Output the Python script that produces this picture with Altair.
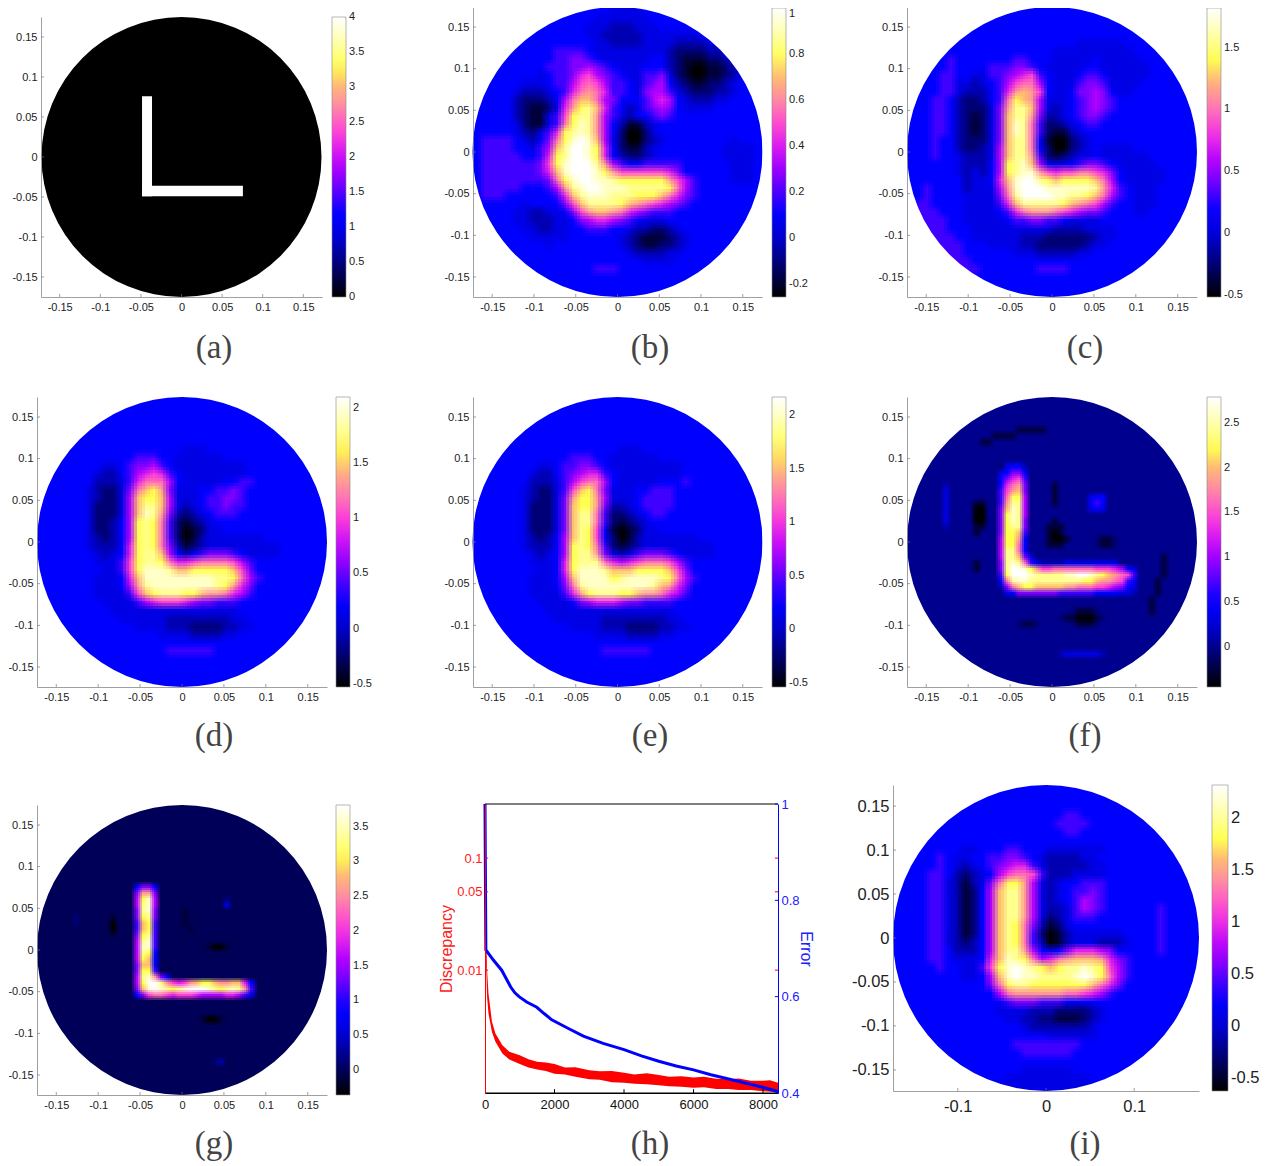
import altair as alt
import pandas as pd

W, H = 1260, 1155
OFF = 8
LEVELS = "0123456789abcdefgh"
PALETTE = ["#000000", "#00003c", "#000078", "#0000b4", "#0000e8", "#0000ff", "#4000ff", "#8000ff", "#b400ff",
           "#e020f0", "#ff40d8", "#ff70b8", "#ff9a96", "#ffc070", "#ffff50", "#ffff90", "#ffffc8", "#ffffff"]
A5 = "555555 555555 555555 555555 555555 555555"

ROWS_B = [
 "555555 555555 555554 444555 555555 555555", "555555 555555 555444 444455 555555 555555",
 "555555 555555 554443 334445 555555 555555", "555555 555555 554433 333444 444455 555555",
 "555555 555555 555443 333444 433334 455555", "555555 555566 665444 444444 322223 345555",
 "555555 555566 776544 444455 321112 234555", "555555 555666 778765 444555 321001 123455",
 "555555 554566 79a876 544667 421001 123455", "555555 444566 8aba86 654678 532112 234555",
 "555554 333456 9bcb96 654788 643222 334555", "555553 222358 bddb87 555689 854333 445555",
 "555553 211249 cefd96 534678 754444 555555", "555553 21146a effc86 435567 655555 555555",
 "555554 21146b egfc85 311345 555555 555555", "555554 32469e fgfc85 200245 555555 555555",
 "566665 4357be ghgd84 200234 555555 554555", "566665 5468df hhge95 211345 555555 544445",
 "566666 5569ef hhge95 322345 555555 544445", "566666 667aeg hhhfc8 655666 665555 554445",
 "566666 6679dg hhhgec aaaaaa 975555 554445", "566666 6667be ghhggf eeeeee ca8655 554445",
 "566666 55568c fghhgg gfffff eb8655 555555", "566655 555569 dfgggf ffeeed b97655 555555",
 "555555 455557 adffff edcba9 876555 555555", "555554 433445 7acddc b98766 655555 555555",
 "555554 433344 578998 765444 555555 555555", "555555 443344 556665 543322 345555 555555",
 "555555 544444 555555 432111 234555 555555", "555555 555455 555555 432112 234555 555555",
 "555555 555555 555555 543333 445555 555555", "555555 555555 555555 555444 455555 555555",
 "555555 555555 555666 555555 555555 555555", A5,
 A5, A5]

ROWS_C = [
 A5, A5, A5, A5,
 "555555 555555 555555 555444 444555 555555", "555555 555555 555555 444444 444455 555555",
 "555556 555555 566555 444445 444445 555555", "555556 555566 677654 444455 444444 555555",
 "555566 554466 789a65 444566 544444 555555", "555566 443456 8abb85 444677 644445 555555",
 "555566 433356 9cdca5 445778 754455 555555", "555665 322356 bedc84 445678 765555 555555",
 "555665 322247 cffd84 345678 765555 555555", "555665 321247 dffc73 345677 655555 555555",
 "555665 321247 dgfb62 234566 555555 555555", "555665 321247 dgfb62 113455 555555 555555",
 "555655 322247 dffb51 002345 555555 555555", "555655 322348 dffb52 002345 444455 555555",
 "555655 433348 dffc62 123445 444444 555555", "555555 433358 efgd84 445677 654444 455555",
 "555555 434358 efggca 9aabba 975444 445555", "555555 534459 dghhfe deeeed b85444 445555",
 "556555 534448 cghhhg gggggf c96544 455555", "556555 544447 bfhhhh ggffed b86544 455555",
 "566555 544446 9dffff fedcba 865544 455555", "566655 544445 69bccc ba9877 655544 555555",
 "566665 544444 566776 654444 555555 555555", "566665 554444 444444 333344 445555 555555",
 "566666 554444 443332 222223 445555 555555", "556666 655544 443322 222234 455555 555555",
 "556666 655555 544433 333445 555555 555555", "555566 665555 555555 555555 555555 555555",
 "555556 666555 555566 665555 555555 555555", A5, A5, A5]

ROWS_D = [
 A5, A5, A5, A5, A5,
 A5, "555555 555555 555555 444555 555555 555555",
 "555555 555555 666554 444445 555555 555555", "555555 554456 778654 444444 445555 555555",
 "555555 543356 89a965 444444 445555 555555", "555555 533346 9bbb85 444445 566555 555555",
 "555555 432247 bdec74 445566 765555 555555", "555555 432248 deed84 445667 765555 555555",
 "555555 422248 dffd84 345667 665555 555555", "555555 422248 dgfc73 234566 655555 555555",
 "555555 422358 efeb62 123455 555555 555555", "555555 422358 efeb62 012445 555555 555555",
 "555555 432358 efeb62 013444 444455 555555", "555555 433359 efeb73 123444 444444 555555",
 "555555 543459 effd85 356777 654444 555555", "555555 54446a effeb9 9abbbb a86555 555555",
 "555555 55446a egggfd deeeee da7555 555555", "555555 544459 dggggg ggggff eb8655 555555",
 "555555 544458 cfgggg ggggfe c97555 555555", "555555 544446 adefff eedccb 986555 555555",
 "555555 554444 689aaa 987766 655555 555555", "555555 555444 444444 444444 455555 555555",
 "555555 555544 444433 333333 445555 555555", "555555 555555 444433 322223 344555 555555",
 "555555 555555 555444 433334 455555 555555", A5,
 "555555 555555 555566 666655 555555 555555", A5,
 A5, A5, A5]

ROWS_E = [
 A5, A5, A5, A5, A5,
 A5, "555555 555555 555555 444555 555555 555555",
 "555555 555555 666554 444445 555555 555555", "555555 554456 677654 444444 445555 555555",
 "555555 543356 789965 444444 445555 555555", "555555 533346 8abb85 444445 556555 555555",
 "555555 432246 adeb74 445566 655555 555555", "555555 432247 ceec84 445666 655555 555555",
 "555555 422247 deec73 345666 655555 555555", "555555 422247 dffb62 234566 555555 555555",
 "555555 422247 dffb62 123455 555555 555555", "555555 422247 dfea51 012445 555555 555555",
 "555555 432358 dfea52 013444 444455 555555", "555555 433358 efeb62 123444 444444 555555",
 "555555 543458 effc74 346777 654444 555555", "555555 544459 efffb9 89abbb a86555 555555",
 "555555 554459 egggfd ddeeee da7555 555555", "555555 544458 dgggge fggggf eb8655 555555",
 "555555 544457 bfgggg ggggfd c97555 555555", "555555 544446 9cefff eedccb 986555 555555",
 "555555 554444 578999 877666 655555 555555", "555555 555444 444444 444444 455555 555555",
 "555555 555544 444433 333333 445555 555555", "555555 555555 444433 322223 344555 555555",
 "555555 555555 555444 433334 455555 555555", A5,
 "555555 555555 555566 666655 555555 555555", A5,
 A5, A5, A5]

ROWS_I = [
 A5, A5, A5,
 "555555 555555 555555 556655 555555 555555", "555555 555555 555555 566665 555555 555555",
 "555555 555555 555555 556655 555555 555555", A5,
 "555555 554455 566555 444444 455555 555555", "555556 544556 677654 333344 555555 555555",
 "555556 543456 789964 333334 455555 555555", "555566 532345 8abba6 333444 455555 555555",
 "555566 431347 beec84 345566 655555 555555", "555566 431258 dffc84 345667 655555 555555",
 "555566 431258 dffc84 345687 655555 555555", "555566 431258 dffc84 334687 655555 565555",
 "555566 431258 dffc84 234666 555555 565555", "555566 431258 dfeb73 124555 555555 565555",
 "555566 431258 dfeb62 013444 444555 565555", "555566 432358 dfeb63 013444 333455 565555",
 "555566 533358 dffc85 457999 875555 565555", "555566 544459 dgfeb8 9bcddd c97655 555555",
 "555556 55446a eghgfe deffgf ea8655 555555", "555555 554458 dghggf fffghg eb8655 555555",
 "555555 555557 beffee eeeeed b97555 555555", "555555 555555 8bcccc ccbba9 865555 555555",
 "555555 555555 567776 665555 555555 555555", "555555 555555 444433 322223 455555 555555",
 "555555 555555 544332 211123 455555 555555", "555555 555555 555433 333334 555555 555555",
 "555555 555555 555555 444444 555555 555555", "555555 555555 556666 666655 555555 555555",
 "555555 555555 555666 666555 555555 555555", A5,
 "555555 555555 555444 444555 555555 555555", "555555 555555 544444 444445 555555 555555",
 "555555 555555 444444 444444 555555 555555"]

# (row, first column, levels) on a 48 x 48 grid; everything else is the zero background
PATCH_F = [
 (5,18,"11111"),(6,14,"1111"),(7,12,"11"),(14,6,"3"),(15,6,"4"),(16,6,"4"),(17,6,"4"),(18,6,"4"),(19,6,"4"),(20,6,"4"),(21,6,"3"),
 (11,15,"24553"),(12,15,"45775"),(13,15,"579a6"),(14,15,"59bc7"),(15,15,"6acd7"),(16,15,"6bee8"),(17,15,"6cff8"),
 (18,15,"7dgf8"),(19,15,"7egf8"),(20,15,"7egf7"),(21,15,"7eff7"),(22,15,"7eed6"),(23,15,"8eec5"),(24,15,"8eeb5"),
 (25,15,"8ffb5"),(26,15,"8ffd74"),(27,15,"7fgfb643333444444444"),
 (28,15,"7fhhgecaabbbbbbbaaa9854"),(29,15,"6ehhhgfffffgghhgfedcba6"),(30,15,"5bfggfffffffffeedccba65"),
 (31,15,"37bdeeddddd ccbbbaa98754"),(32,16,"457777777666666555 5443"),
 (17,11,"11"),(18,11,"00"),(19,11,"00"),(20,11,"00"),(21,11,"11"),(22,11,"1"),(27,11,"1"),(28,11,"1"),
 (14,24,"1"),(15,24,"1"),(16,24,"1"),(17,24,"1"),(20,24,"1"),(21,23,"111"),(22,23,"101"),(23,23,"1001"),(24,23,"111"),
 (23,31,"2112"),(24,31,"2112"),(16,30,"455"),(17,30,"565"),(18,30,"454"),
 (35,27,"21112"),(36,25,"2110001 2"),(37,27,"21112"),(37,18,"2112"),(42,25,"34444443"),
 (26,42,"1"),(27,42,"1"),(28,42,"1"),(29,42,"1"),(30,41,"1"),(31,41,"1"),(32,41,"1"),(33,40,"1"),(34,40,"1"),(35,40,"1")]
PATCH_G = [
 (13,16,"5775"),(14,16,"7cc7"),(15,16,"8eg8"),(16,16,"8fg8"),(17,16,"7fg7"),(18,16,"7ef7"),(19,16,"6de6"),(20,16,"6de6"),
 (21,16,"7ef6"),(22,16,"8fg6"),(23,16,"8gg6"),(24,16,"8fe5"),(25,16,"8ed5"),(26,16,"7dd5"),(27,16,"7ee6"),(28,16,"8fgc75"),
 (29,16,"8ehhfca9acdeedccdd95"),(30,16,"7dghgfefghhhgfefgfc6"),(31,16,"57abba9aaa98888 99864"),
 (18,12,"1"),(19,12,"0"),(20,12,"0"),(21,12,"1"),(17,24,"1"),(18,24,"1"),(19,24,"1"),(20,25,"1"),(23,28,"1001"),(35,27,"1001"),
 (15,31,"2"),(16,31,"4"),(18,6,"2"),(19,6,"2"),(42,29,"23")]

DISC_X = [0, 5, 30, 60, 100, 200, 300, 500, 700, 1000, 1250, 1500, 1750, 2000, 2300, 2600, 3000, 3300, 3650, 4000, 4300, 4650, 5000,
          5300, 5650, 6000, 6300, 6650, 7000, 7300, 7650, 8000, 8200, 8430]
DISC_HI = [.30, .30, .0228, .01, .00619, .00346, .00272, .00214, .00187, .00174, .00160, .00152, .00150, .00145, .00135, .00136, .00128,
           .00125, .00126, .00121, .00117, .00120, .00116, .00112, .00113, .0011, .00112, .00107, .00106, .00108, .00103, .00103, .00104, .00099]
DISC_LO = [.02, .02, .0115, .00578, .0041, .00281, .00229, .0018, .00159, .00145, .00135, .0013, .00126, .00119, .00117, .00112, .00106,
           .00105, .00100, .00099, .00097, .00096, .00094, .00092, .00091, .00089, .00090, .00087, .00087, .00085, .00085, .00083, .00082, .00081]
ERR_X = [0, 8, 25, 240, 480, 620, 740, 860, 980, 1200, 1490, 1700, 1920, 2400, 2830, 3400, 4000, 4500, 5000, 5500, 6000, 6500, 7010, 7930, 8430]
ERR_Y = [1, .9, .697, .676, .655, .636, .62, .608, .6, .589, .578, .565, .552, .534, .518, .503, .49, .477, .466, .456, .448, .438, .429, .413, .403]

TICKS_STD = [-.15, -.1, -.05, 0, .05, .1, .15]
BAR_A = [0, .5, 1, 1.5, 2, 2.5, 3, 3.5, 4]
BAR_B = [-.2, 0, .2, .4, .6, .8, 1]
BAR_C = [-.5, 0, .5, 1, 1.5]
BAR_D = [-.5, 0, .5, 1, 1.5, 2]
BAR_F = [0, .5, 1, 1.5, 2, 2.5]
BAR_G = [0, .5, 1, 1.5, 2, 2.5, 3, 3.5]
BAR_I = [-.5, 0, .5, 1, 1.5, 2]
CAPTIONS = [("(a)", 214, 358), ("(b)", 650, 358), ("(c)", 1085, 358), ("(d)", 214, 746), ("(e)", 650, 746),
            ("(f)", 1085, 746), ("(g)", 214, 1154), ("(h)", 650, 1154), ("(i)", 1085, 1154)]

LABEL = "''+datum.value"
SANS = "Liberation Sans"


def px(v):
    return v - OFF


def cell(r, c, nx, ny, ch, dx, dy, vmin, vmax):
    w, h = 2 * dx / nx, 2 * dy / ny
    v = 0.0 if ch == "." else vmin + (vmax - vmin) * LEVELS.index(ch) / 17
    return {"x0": -dx + c * w, "x1": -dx + (c + 1) * w, "y1": dy - r * h, "y0": dy - (r + 1) * h, "v": v}


def cells_from_rows(rows, dx, dy, vmin, vmax):
    out = []
    for r, row in enumerate(rows):
        row = row.replace(" ", "")
        for c, ch in enumerate(row):
            out.append(cell(r, c, len(row), len(rows), ch, dx, dy, vmin, vmax))
    return out


def cells_from_patches(patches, n, dx, dy, vmin, vmax):
    grid = {}
    for r, c0, text in patches:
        for i, ch in enumerate(text.replace(" ", "")):
            grid[(r, c0 + i)] = ch
    # every cell next to a read value is kept too, at the zero background, so softening stays even
    keep = {(r + a, c + b) for (r, c) in grid for a in (-1, 0, 1) for b in (-1, 0, 1)}
    return [cell(r, c, n, n, grid.get((r, c), "."), dx, dy, vmin, vmax) for (r, c) in sorted(keep)]


def panel(cells, box, dom, vrange, bar_vals, bar, radius, base, xticks=TICKS_STD, yticks=TICKS_STD, font=11, extra=None, thick=14,
          soften=0, xpad=4):
    x0, x1, y0, y1 = [px(b) for b in box]
    dx, dy = dom
    vmin, vmax = vrange
    xs = alt.Scale(domain=[-dx, dx], range=[x0, x1], nice=False, zero=False)
    ys = alt.Scale(domain=[-dy, dy], range=[y1, y0], nice=False, zero=False)
    cs = alt.Scale(domain=[vmin + (vmax - vmin) * i / 17 for i in range(18)], range=PALETTE, type="linear", clamp=True,
                   interpolate="rgb")
    common = dict(grid=False, title=None, tickSize=0, labelExpr=LABEL, labelFont=SANS, labelFontSize=font,
                  labelColor="#222", domainColor="#888", domainWidth=.8, zindex=1, labelOverlap=False, labelFlush=False,
                  labelBound=False)
    xax = alt.Axis(orient="bottom", values=xticks, offset=-(H - y1), labelPadding=xpad, **common)
    yax = alt.Axis(orient="left", values=yticks, offset=-x0, labelPadding=4, **common)
    top = max(y0, 0)
    leg = alt.Legend(orient="none", legendX=px(bar), legendY=top, direction="vertical", title=None, values=bar_vals,
                     gradientLength=y1 - top, gradientThickness=thick, gradientStrokeColor="#888", gradientStrokeWidth=.6,
                     labelFont=SANS, labelFontSize=font, labelColor="#222", labelExpr=LABEL, labelOffset=3, labelOverlap=False)
    under = alt.Chart(pd.DataFrame([{"x0": -dx, "x1": dx, "y0": -dy, "y1": dy, "v": base}])).mark_rect().encode(
        x=alt.X("x0:Q", scale=xs, axis=xax), x2="x1:Q",
        y=alt.Y("y0:Q", scale=ys, axis=yax), y2="y1:Q",
        color=alt.Color("v:Q", scale=cs, legend=leg))
    layers = [under]
    table = pd.DataFrame(cells)
    # the same cells are drawn a few times, a fraction of a cell apart, each pass equally weighted by its opacity,
    # so the renderer softens the steps between cells the way the reference image is shaded
    shifts = [(-soften, -soften), (0, -soften), (soften, -soften), (-soften, 0), (0, 0), (soften, 0),
              (-soften, soften), (0, soften), (soften, soften)] if soften else [(0, 0)]
    for k, (sx, sy) in enumerate(shifts, start=1):
        xk = alt.Scale(domain=[-dx, dx], range=[x0 + sx, x1 + sx], nice=False, zero=False, round=True)
        yk = alt.Scale(domain=[-dy, dy], range=[y1 + sy, y0 + sy], nice=False, zero=False, round=True)
        layers.append(alt.Chart(table).mark_rect(opacity=1 / k).encode(
            x=alt.X("x0:Q", scale=xk, axis=None), x2="x1:Q",
            y=alt.Y("y0:Q", scale=yk, axis=None), y2="y1:Q",
            color=alt.Color("v:Q", scale=cs, legend=None)))
    if extra is not None:
        layers.append(alt.Chart(pd.DataFrame(extra)).mark_rect(color="#ffffff").encode(
            x=alt.X("x0:Q", scale=xs, axis=None), x2="x1:Q", y=alt.Y("y0:Q", scale=ys, axis=None), y2="y1:Q"))
    ring = alt.Chart(pd.DataFrame({"x": [0.0], "y": [0.0]})).mark_arc(
        color="#ffffff", radius=radius * 1.45, radius2=radius, theta=0, theta2=6.2832).encode(
        x=alt.X("x:Q", scale=xs, axis=None), y=alt.Y("y:Q", scale=ys, axis=None))
    layers.append(ring)
    tx = 3 * 2 * dx / (x1 - x0)
    ty = 3 * 2 * dy / (y1 - y0)
    tk = [{"a": t, "b": t, "c": -dy, "d": -dy + ty} for t in xticks] + [{"a": -dx, "b": -dx + tx, "c": t, "d": t} for t in yticks]
    layers.append(alt.Chart(pd.DataFrame(tk)).mark_rule(color="#777", strokeWidth=.7).encode(
        x=alt.X("a:Q", scale=xs, axis=None), x2="b:Q", y=alt.Y("c:Q", scale=ys, axis=None), y2="d:Q"))
    return layers


D = (.173, .174)
L_SHAPE = [{"x0": -.0486, "x1": -.0363, "y0": -.049, "y1": .076},
           {"x0": -.0486, "x1": .0756, "y0": -.049, "y1": -.036}]
CELLS_A = [{"x0": -.173, "x1": .173, "y0": -.175, "y1": .175, "v": 0.0}]


def blue_of(vr):
    return vr[0] + (vr[1] - vr[0]) * 5 / 17


RA, RB, RC, RD, RE, RF, RG, RI = (-.001, 4.001), (-.257, 1.0), (-.52, 1.82), (-.53, 2.1), (-.54, 2.17), (-.45, 2.79), (-.36, 3.81), (-.63, 2.32)
layers = []
layers += panel(CELLS_A, (41, 322, 17, 297), (.173, .175), RA, BAR_A, 332, 140, 0.0, extra=L_SHAPE)
layers += panel(cells_from_rows(ROWS_B, *D, *RB), (473, 762, 7, 297), D, RB, BAR_B, 772, 145, blue_of(RB), soften=3)
layers += panel(cells_from_rows(ROWS_C, *D, *RC), (907, 1197, 7, 297), D, RC, BAR_C, 1207, 145, blue_of(RC), soften=3)
layers += panel(cells_from_rows(ROWS_D, *D, *RD), (37, 327, 397, 687), D, RD, BAR_D, 336, 145, blue_of(RD), soften=3)
layers += panel(cells_from_rows(ROWS_E, *D, *RE), (473, 762, 397, 687), D, RE, BAR_D, 772, 145, blue_of(RE), soften=3)
layers += panel(cells_from_patches(PATCH_F, 48, *D, *RF), (907, 1197, 397, 687), D, RF, BAR_F, 1207, 145, 0.0, soften=2)
layers += panel(cells_from_patches(PATCH_G, 48, *D, *RG), (37, 327, 805, 1095), D, RG, BAR_G, 336, 145, 0.0, soften=2)
layers += panel(cells_from_rows(ROWS_I, .1735, .174, *RI), (893, 1199, 785, 1091), (.1735, .174), RI, BAR_I, 1212, 153, blue_of(RI),
                xticks=[-.1, 0, .1], font=16.5, thick=16, soften=3, xpad=7)

# panel (h)
hx0, hx1, hy0, hy1 = px(485), px(778), px(804), px(1093)
hxs = alt.Scale(domain=[0, 8430], range=[hx0, hx1], nice=False, zero=False)
hlog = alt.Scale(type="log", domain=[.0008, .304], range=[hy1, hy0], nice=False)
herr = alt.Scale(domain=[.4, 1], range=[hy1, hy0], nice=False, zero=False)
disc = pd.DataFrame({"x": DISC_X, "hi": DISC_HI, "lo": DISC_LO})
err = pd.DataFrame({"x": ERR_X, "y": ERR_Y})
layers.append(alt.Chart(disc).mark_area(color="#ff0000", line=False).encode(
    x=alt.X("x:Q", scale=hxs, axis=alt.Axis(orient="bottom", values=[0, 2000, 4000, 6000, 8000], offset=-(H - hy1), title=None, grid=False,
                                            tickSize=0, labelExpr=LABEL, labelFont=SANS, labelFontSize=13, labelColor="#111",
                                            domainColor="#000", labelPadding=5, zindex=1, labelFlush=False, labelBound=False)),
    y=alt.Y("lo:Q", scale=hlog, axis=alt.Axis(orient="left", values=[.01, .05, .1], offset=-hx0, title="Discrepancy", titleColor="#ff2020",
                                              titleFont=SANS, titleFontSize=16, titleFontWeight="normal", titlePadding=2, grid=False,
                                              tickSize=0, labelExpr=LABEL, labelFont=SANS, labelFontSize=13, labelColor="#ff2020",
                                              domainColor="#ff0000", labelPadding=3, zindex=1, labelOverlap=False, labelBound=False, labelFlush=False)),
    y2="hi:Q"))
layers.append(alt.Chart(err).mark_line(color="#0000ff", strokeWidth=3).encode(
    x=alt.X("x:Q", scale=hxs, axis=None),
    y=alt.Y("y:Q", scale=herr, axis=alt.Axis(orient="right", values=[.4, .6, .8, 1], offset=-(W - hx1), title="Error", titleColor="#2020ff",
                                             titleFont=SANS, titleFontSize=16, titleFontWeight="normal", titlePadding=-2, grid=False,
                                             tickSize=0, labelExpr=LABEL, labelFont=SANS, labelFontSize=13, labelColor="#2020ff",
                                             domainColor="#0000ff", labelPadding=3, zindex=1, labelOverlap=False, labelBound=False, labelFlush=False))))
frame = pd.DataFrame([{"a": 0, "b": 8430, "c": 1.0, "d": 1.0}, {"a": 0, "b": 8430, "c": .4, "d": .4}] +
                     [{"a": t, "b": t, "c": .4, "d": .408} for t in [2000, 4000, 6000, 8000]])
layers.append(alt.Chart(frame).mark_rule(color="#000", strokeWidth=1).encode(
    x=alt.X("a:Q", scale=hxs, axis=None), x2="b:Q", y=alt.Y("c:Q", scale=herr, axis=None), y2="d:Q"))
blue = pd.DataFrame([{"a": 8340, "b": 8430, "c": t, "d": t} for t in [.4, .6, .8, 1]])
layers.append(alt.Chart(blue).mark_rule(color="#0000ff", strokeWidth=1).encode(
    x=alt.X("a:Q", scale=hxs, axis=None), x2="b:Q", y=alt.Y("c:Q", scale=herr, axis=None), y2="d:Q"))
red = pd.DataFrame([{"a": a, "b": a + 90, "c": t, "d": t} for t in [.01, .05, .1] for a in [0, 8340]])
layers.append(alt.Chart(red).mark_rule(color="#ff0000", strokeWidth=1).encode(
    x=alt.X("a:Q", scale=hxs, axis=None), x2="b:Q", y=alt.Y("c:Q", scale=hlog, axis=None), y2="d:Q"))

for text, cx, cy in CAPTIONS:
    layers.append(alt.Chart(pd.DataFrame({"t": [text]})).mark_text(
        font="Liberation Serif", fontSize=33, color="#444", align="center", baseline="alphabetic").encode(
        x=alt.value(px(cx)), y=alt.value(px(cy)), text="t:N"))

chart = alt.layer(*layers).resolve_scale(x="independent", y="independent", color="independent").resolve_axis(
    x="independent", y="independent").resolve_legend(color="independent").properties(
    width=W, height=H, padding=0, autosize="none").configure_view(stroke=None)
chart.save("out.html", embed_options={"renderer": "svg", "actions": False})
